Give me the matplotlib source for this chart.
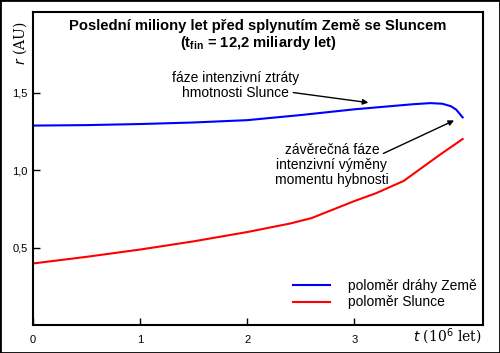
import matplotlib
matplotlib.use("Agg")
import matplotlib.pyplot as plt
from matplotlib.ticker import FuncFormatter

plt.rcParams["font.family"] = ["Liberation Sans", "DejaVu Sans"]

# time in 10^6 years, radius in AU
t_earth = [0.0, 0.5, 1.0, 1.5, 2.0, 2.5, 3.0, 3.3, 3.55, 3.71, 3.82, 3.9, 3.95, 4.01]
r_earth = [1.287, 1.290, 1.297, 1.307, 1.322, 1.355, 1.392, 1.410, 1.425, 1.432, 1.428, 1.412, 1.39, 1.34]
t_sun = [0.0, 0.5, 1.0, 1.5, 2.0, 2.4, 2.6, 2.8, 3.0, 3.2, 3.46, 3.6, 3.8, 4.01]
r_sun = [0.397, 0.44, 0.487, 0.54, 0.60, 0.655, 0.69, 0.745, 0.80, 0.85, 0.93, 1.00, 1.10, 1.20]

xticks = [0, 1, 2, 3]
yticks = [0.5, 1.0, 1.5]

fig = plt.figure(figsize=(5.0, 3.53), dpi=100)
fig.patches.append(plt.Rectangle((0, 0), 1, 1, transform=fig.transFigure,
                                 fill=False, edgecolor="black", linewidth=2))
ax = fig.add_axes([33 / 500, 28 / 353, 450 / 500, 313 / 353])

ax.plot(t_earth, r_earth, color="#0000ff", lw=1.5, label="poloměr dráhy Země")
ax.plot(t_sun, r_sun, color="#ff0000", lw=1.5, label="poloměr Slunce")

ax.set_xlim(0, 4.2)
ax.set_ylim(0, 2.02)
ax.set_xticks(xticks)
ax.set_yticks(yticks)
ax.yaxis.set_major_formatter(FuncFormatter(lambda v, p: f"{v:.1f}".replace(".", ",")))
ax.tick_params(direction="in", length=5, width=1, labelsize=8, pad=4)
ax.tick_params(axis="x", pad=7)
for s in ax.spines.values():
    s.set_linewidth(1.5)

ax.set_title("Poslední miliony let před splynutím Země se Sluncem\n"
             r"(t$_\mathregular{fin}$ = 12,2 miliardy let)",
             fontsize=10.6, fontweight="bold", y=0.86, linespacing=1.1)

fig.text(20 / 500, 1 - 43 / 353, r"$r$ (AU)", rotation=90, ha="center", va="center",
         fontsize=10, family="DejaVu Serif")
fig.text(447 / 500, 1 - 337 / 353, r"$t$ (10$^6$ let)", ha="center", va="center",
         fontsize=10, family="DejaVu Serif")

arrow = dict(arrowstyle="-|>", color="black", lw=1, mutation_scale=8, shrinkA=0, shrinkB=0)
ax.text(1.89, 1.545, "fáze intenzivní ztráty\nhmotnosti Slunce", ha="center", va="center",
        fontsize=10, linespacing=1.05)
ax.annotate("", xy=(3.13, 1.435), xytext=(2.43, 1.50), arrowprops=arrow)
ax.text(2.79, 1.035, "závěrečná fáze\nintenzivní výměny\nmomentu hybnosti", ha="center",
        va="center", fontsize=10, linespacing=1.1)
ax.annotate("", xy=(3.93, 1.32), xytext=(3.27, 1.107), arrowprops=arrow)

ax.legend(loc="lower right", bbox_to_anchor=(1.015, 0.01), frameon=False, fontsize=10,
          handlelength=2.7, handletextpad=1.3, labelspacing=0.2)

fig.savefig("out.png", dpi=100)
